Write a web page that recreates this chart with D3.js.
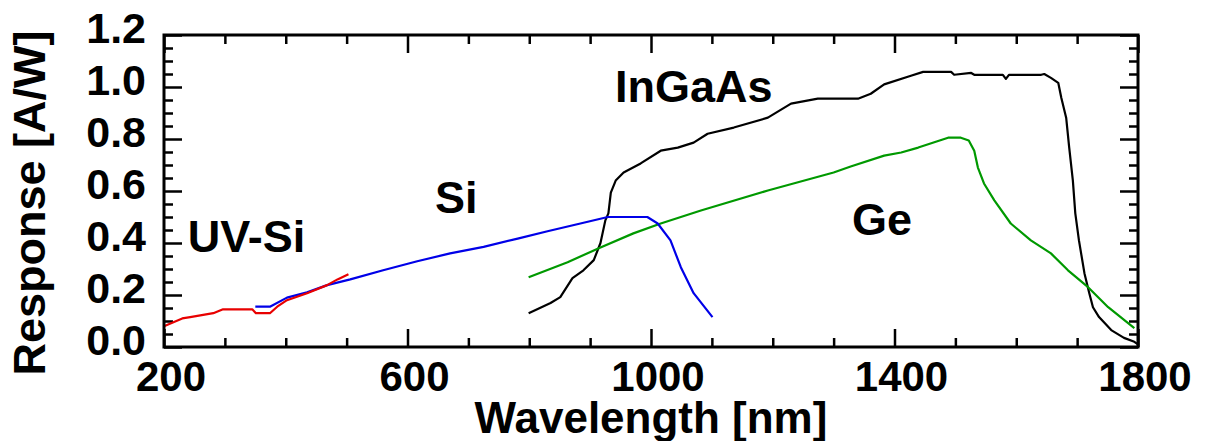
<!DOCTYPE html>
<html>
<head>
<meta charset="utf-8">
<script src="https://cdn.jsdelivr.net/npm/d3@7"></script>
<style>
  html, body { margin: 0; padding: 0; background: #fff; }
  svg { display: block; }
  text { font-family: "Liberation Sans", Arial, Helvetica, sans-serif; font-weight: bold; fill: #000; }
</style>
</head>
<body>
<svg id="chart" width="1208" height="441"></svg>
<script>
// ---- data ----
const xMajorTicks = [200, 600, 1000, 1400, 1800];
const yMajorTicks = [0.0, 0.2, 0.4, 0.6, 0.8, 1.0, 1.2];
const xTitle = "Wavelength [nm]";
const yTitle = "Response [A/W]";

const seriesNames = ["UV-Si", "Si", "InGaAs", "Ge"];
const seriesColors = ["#e80000", "#0000e8", "#000000", "#009900"];

const uvSiWl   = [200, 230, 243, 281, 297, 345, 351, 374, 386, 402, 435, 468, 485, 503];
const uvSiResp = [0.08, 0.11, 0.115, 0.13, 0.145, 0.145, 0.13, 0.13, 0.155, 0.18, 0.207, 0.238, 0.26, 0.28];

const siWl   = [350, 374, 402, 435, 468, 506, 560, 616, 670, 725, 781, 830, 884, 929, 994, 1011, 1032, 1049, 1070, 1101];
const siResp = [0.155, 0.155, 0.19, 0.21, 0.238, 0.26, 0.295, 0.33, 0.36, 0.385, 0.417, 0.445, 0.475, 0.50, 0.50, 0.475, 0.41, 0.307, 0.207, 0.115];

const ingaasWl   = [799, 835, 851, 871, 889, 906, 917, 925, 930, 934, 942, 955, 983, 1016, 1044, 1070, 1093, 1136, 1192, 1230, 1274, 1340, 1361, 1383, 1427, 1447, 1493, 1498, 1526, 1531, 1578, 1583, 1588, 1641, 1646, 1657, 1669, 1674, 1682, 1687, 1693, 1697, 1703, 1712, 1720, 1726, 1736, 1756, 1777, 1794, 1800];
const ingaasResp = [0.13, 0.169, 0.192, 0.265, 0.295, 0.334, 0.40, 0.487, 0.514, 0.594, 0.64, 0.671, 0.706, 0.755, 0.767, 0.786, 0.82, 0.844, 0.882, 0.936, 0.955, 0.955, 0.974, 1.01, 1.043, 1.058, 1.058, 1.047, 1.054, 1.047, 1.047, 1.031, 1.047, 1.047, 1.05, 1.035, 1.016, 0.959, 0.882, 0.767, 0.64, 0.514, 0.41, 0.284, 0.207, 0.153, 0.115, 0.065, 0.035, 0.02, 0.01];

const geWl   = [799, 863, 917, 971, 1016, 1082, 1192, 1300, 1328, 1383, 1411, 1439, 1488, 1509, 1522, 1531, 1537, 1547, 1564, 1591, 1624, 1657, 1685, 1718, 1751, 1794];
const geResp = [0.268, 0.326, 0.383, 0.437, 0.475, 0.525, 0.602, 0.671, 0.694, 0.736, 0.748, 0.767, 0.805, 0.805, 0.794, 0.755, 0.69, 0.629, 0.564, 0.475, 0.41, 0.36, 0.295, 0.23, 0.153, 0.073];

// annotation anchor points in data units (wavelength, response) for the labels
const labelWl   = [239, 645, 941, 1330];
const labelResp = [0.365, 0.515, 0.942, 0.431];

// ---- drawing ----
const svg = d3.select("#chart");
const plotLeft = 164, plotRight = 1138, plotTop = 35, plotBottom = 347;

const x = d3.scaleLinear().domain([200, 1800]).range([plotLeft, plotRight]);
const y = d3.scaleLinear().domain([0, 1.2]).range([plotBottom, plotTop]);

const xMinor = d3.range(200, 1801, 100).filter(v => !xMajorTicks.includes(v));
const yMinor = d3.range(0, 1.2001, 0.05).map(v => +v.toFixed(2)).filter(v => !yMajorTicks.some(t => Math.abs(t - v) < 1e-6));

const majorLen = 18, minorLen = 9;

function tickAxis(gen, pos, ticks, len) {
  const g = svg.append("g").attr("transform", pos)
    .call(gen.tickValues(ticks).tickSize(-len).tickFormat(""));
  g.select(".domain").remove();
  g.selectAll(".tick line").attr("stroke", "#000").attr("stroke-width", 2.5);
  return g;
}

// bottom / top
tickAxis(d3.axisBottom(x), `translate(0,${plotBottom})`, xMajorTicks, majorLen);
tickAxis(d3.axisBottom(x), `translate(0,${plotBottom})`, xMinor, minorLen);
tickAxis(d3.axisTop(x), `translate(0,${plotTop})`, xMajorTicks, majorLen);
tickAxis(d3.axisTop(x), `translate(0,${plotTop})`, xMinor, minorLen);
// left / right
tickAxis(d3.axisLeft(y), `translate(${plotLeft},0)`, yMajorTicks, majorLen);
tickAxis(d3.axisLeft(y), `translate(${plotLeft},0)`, yMinor, minorLen);
tickAxis(d3.axisRight(y), `translate(${plotRight},0)`, yMajorTicks, majorLen);
tickAxis(d3.axisRight(y), `translate(${plotRight},0)`, yMinor, minorLen);

// tick labels
svg.append("g").selectAll("text").data(xMajorTicks).join("text")
  .attr("x", d => x(d) + 7).attr("y", 391)
  .attr("text-anchor", "middle").attr("font-size", 42)
  .text(d => d);

svg.append("g").selectAll("text").data(yMajorTicks).join("text")
  .attr("x", 146).attr("y", d => y(d) + 8)
  .attr("text-anchor", "end").attr("font-size", 43)
  .text(d => d3.format(".1f")(d));

// titles
svg.append("text")
  .attr("x", (plotLeft + plotRight) / 2).attr("y", 433)
  .attr("text-anchor", "middle").attr("font-size", 44)
  .text(xTitle);

svg.append("text")
  .attr("transform", `translate(45,203) rotate(-90)`)
  .attr("text-anchor", "middle").attr("font-size", 45)
  .text(yTitle);

// data lines
const series = [
  [uvSiWl, uvSiResp],
  [siWl, siResp],
  [ingaasWl, ingaasResp],
  [geWl, geResp]
];
const line = d3.line().x(d => x(d[0])).y(d => y(d[1]));
const drawOrder = [2, 3, 1, 0];
drawOrder.forEach(i => {
  const [wl, r] = series[i];
  svg.append("path")
    .datum(wl.map((w, k) => [w, r[k]]))
    .attr("d", line)
    .attr("fill", "none")
    .attr("stroke", seriesColors[i])
    .attr("stroke-width", 2.2)
    .attr("stroke-linejoin", "round");
});

// series labels
svg.append("g").selectAll("text").data(seriesNames).join("text")
  .attr("x", (d, i) => x(labelWl[i]))
  .attr("y", (d, i) => y(labelResp[i]))
  .attr("font-size", 45)
  .text(d => d);

// frame
svg.append("rect")
  .attr("x", plotLeft).attr("y", plotTop)
  .attr("width", plotRight - plotLeft).attr("height", plotBottom - plotTop)
  .attr("fill", "none").attr("stroke", "#000").attr("stroke-width", 3);
</script>
</body>
</html>
